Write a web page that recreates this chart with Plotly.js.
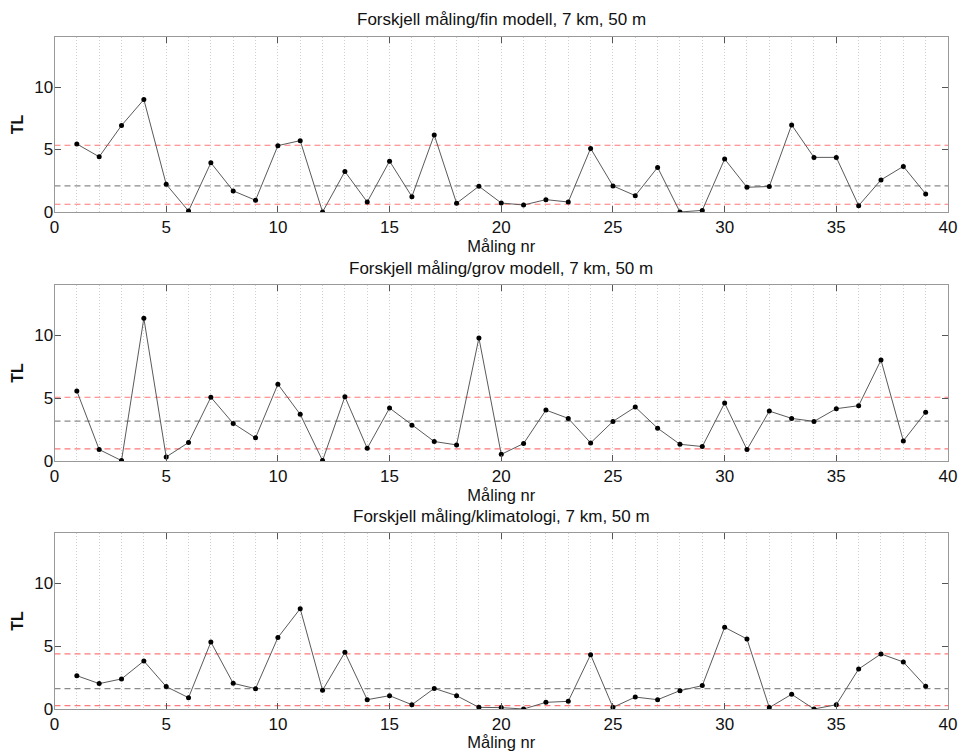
<!DOCTYPE html>
<html><head><meta charset="utf-8">
<script src="https://cdn.plot.ly/plotly-3.0.1.min.js"></script>
<style>html,body{margin:0;padding:0;background:#fff}#chart{width:958px;height:751px}</style>
</head><body><div id="chart"></div>
<script>
// Measurement numbers
const malingNr = [1,2,3,4,5,6,7,8,9,10,11,12,13,14,15,16,17,18,19,20,21,22,23,24,25,26,27,28,29,30,31,32,33,34,35,36,37,38,39];

// Panel titles
const panelTitles = [
  "Forskjell måling/fin modell, 7 km, 50 m",
  "Forskjell måling/grov modell, 7 km, 50 m",
  "Forskjell måling/klimatologi, 7 km, 50 m"
];

// Series values (TL)
const finModell = [5.44,4.42,6.92,9.0,2.22,0.08,3.94,1.69,0.94,5.31,5.71,0.0,3.24,0.80,4.07,1.23,6.17,0.70,2.06,0.72,0.56,0.99,0.80,5.09,2.09,1.31,3.57,0.0,0.13,4.24,1.98,2.04,6.97,4.37,4.37,0.51,2.57,3.65,1.45];
const grovModell = [5.57,0.91,0.03,11.36,0.32,1.47,5.07,2.99,1.84,6.11,3.71,0.03,5.12,1.01,4.21,2.85,1.55,1.28,9.79,0.53,1.39,4.05,3.39,1.44,3.15,4.29,2.61,1.33,1.15,4.61,0.91,3.97,3.39,3.15,4.16,4.40,8.03,1.60,3.87];
const klimatologi = [2.65,2.02,2.39,3.82,1.78,0.90,5.33,2.04,1.62,5.68,7.98,1.49,4.51,0.74,1.06,0.34,1.64,1.06,0.13,0.11,0.0,0.53,0.61,4.32,0.13,0.95,0.74,1.46,1.86,6.50,5.57,0.11,1.17,0.0,0.34,3.18,4.38,3.74,1.80];

// Reference levels per panel: [lower red, gray mean, upper red]
const levelsFin = [0.62, 2.09, 5.34];
const levelsGrov = [0.96, 3.17, 5.07];
const levelsKlima = [0.27, 1.62, 4.38];

// Axis extents / ticks
const xExtent = [0, 40];
const yExtent = [0, 14];
const xTicks = [0,5,10,15,20,25,30,35,40];
const yTicks = [0,5,10];

const series = [finModell, grovModell, klimatologi];
const levels = [levelsFin, levelsGrov, levelsKlima];

const FONT = "Liberation Sans, Arial, Helvetica, sans-serif";
const W = 958, H = 751;
const xDom = [54.5/W, 948/W];
// panel pixel extents (top, bottom)
const panelPx = [[37,212],[285,461],[533,709]];

const traces = [];
const layout = {
  width: W, height: H,
  margin: {l:0, r:0, t:0, b:0},
  paper_bgcolor: "#fff", plot_bgcolor: "#fff",
  showlegend: false,
  font: {family: FONT, color: "#000", size: 15},
  annotations: [], shapes: []
};

for (let p = 0; p < 3; p++) {
  const sfx = p === 0 ? "" : String(p+1);
  const xa = "x" + sfx, ya = "y" + sfx;
  const [lo, mean, hi] = levels[p];
  const lineSpec = (y, color, w) => ({
    x: xExtent, y: [y, y], xaxis: xa, yaxis: ya, mode: "lines",
    line: {color: color, width: w, dash: "6px,4px"}, hoverinfo: "skip"
  });
  traces.push(lineSpec(hi, "#ff7a7a", 1.2));
  traces.push(lineSpec(lo, "#ff7a7a", 1.2));
  traces.push(lineSpec(mean, "#8a8a8a", 1.4));
  traces.push({
    x: malingNr, y: series[p], xaxis: xa, yaxis: ya, mode: "lines+markers",
    line: {color: "#5a5a5a", width: 1},
    marker: {color: "#000", size: 5}
  });
  const [tp, bp] = panelPx[p];
  const yDom = [1 - bp/H, 1 - tp/H];
  layout["xaxis" + sfx] = {
    domain: xDom, anchor: ya, range: xExtent,
    tickvals: xTicks, ticktext: xTicks.map(String),
    ticks: "inside", ticklen: 6, tickcolor: "#555", mirror: "allticks",
    showline: true, linecolor: "#999", linewidth: 1,
    showgrid: true, gridcolor: "#d0d0d0", griddash: "1px,2px", gridwidth: 1,
    minor: {dtick: 1, tick0: 0, showgrid: true, gridcolor: "#d0d0d0", griddash: "1px,2px", gridwidth: 1, ticks: ""},
    zeroline: false,
    tickfont: {family: FONT, size: 17, color: "#111"},
    title: {text: "Måling nr", font: {family: FONT, size: 16.5, color: "#111"}, standoff: 2}
  };
  layout["yaxis" + sfx] = {
    domain: yDom, anchor: xa, range: yExtent,
    tickvals: yTicks, ticktext: yTicks.map(String),
    ticks: "inside", ticklen: 6, tickcolor: "#555", mirror: "allticks",
    showline: true, linecolor: "#999", linewidth: 1,
    showgrid: false, zeroline: false,
    ticklabelstandoff: -3,
    tickfont: {family: FONT, size: 17, color: "#111"},
    title: {text: "<b>TL</b>", font: {family: FONT, size: 16, color: "#111"}, standoff: 6}
  };
  layout.annotations.push({
    text: panelTitles[p], xref: "paper", yref: "paper",
    x: (xDom[0]+xDom[1])/2, y: 1 - (tp - 17)/H,
    xanchor: "center", yanchor: "middle", showarrow: false,
    font: {family: FONT, size: 17, color: "#111"}
  });
}

Plotly.newPlot("chart", traces, layout, {staticPlot: true, displayModeBar: false});
</script>
</body></html>
